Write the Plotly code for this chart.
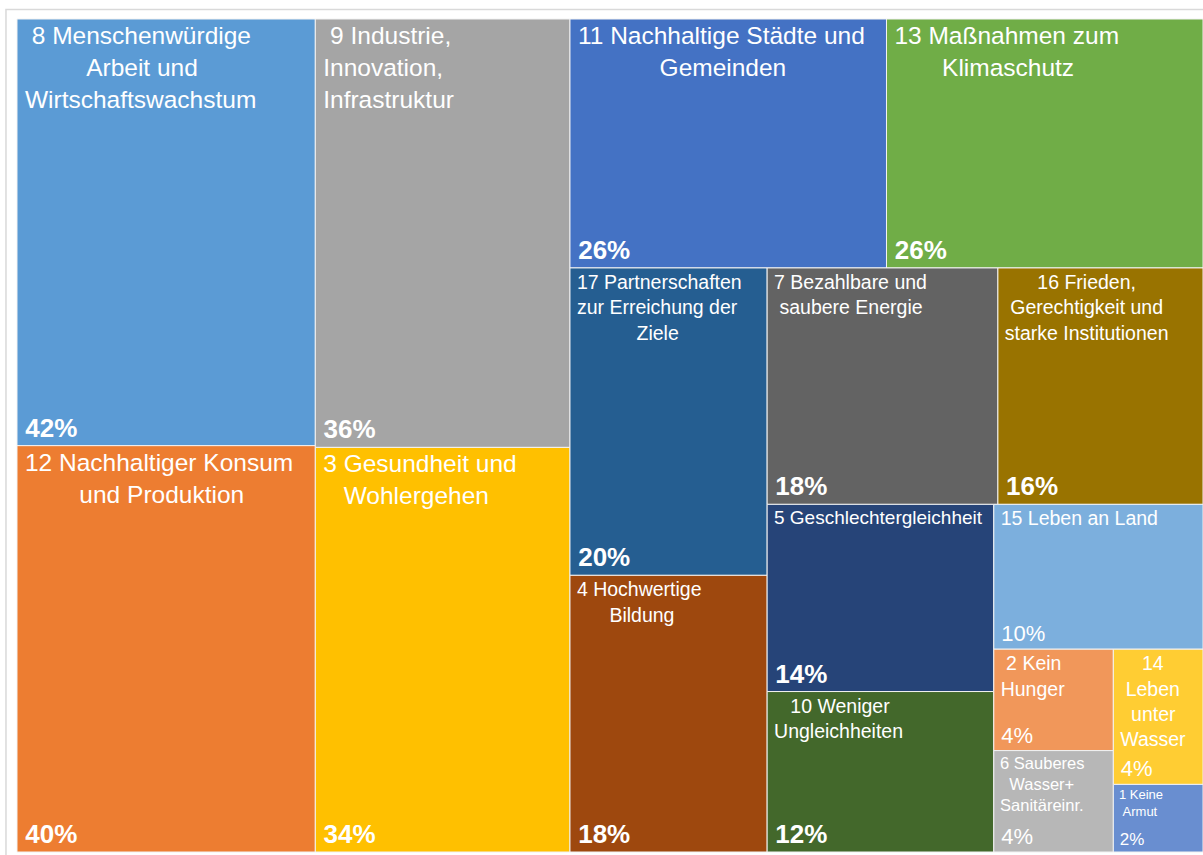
import plotly.graph_objects as go

NB = "\u00a0"
TS = "\u2009"  # thin space, small inset from the tile edge

# leaves: SDG number, label shown in the tile, share in percent
goal_ids = ["8", "12", "9", "3", "11", "13", "17", "4", "7", "16",
            "5", "10", "15", "2", "6", "14", "1"]
goal_labels = [
    f"{NB}8 Menschenwürdige<br>{NB * 9}Arbeit und<br>Wirtschaftswachstum",
    f"12 Nachhaltiger Konsum<br>{NB * 8}und Produktion",
    f"{NB}9 Industrie,<br>Innovation,<br>Infrastruktur",
    f"3 Gesundheit und<br>{NB * 3}Wohlergehen",
    f"11 Nachhaltige Städte und<br>{NB * 12}Gemeinden",
    f"13 Maßnahmen zum<br>{NB * 7}Klimaschutz",
    f"17 Partnerschaften<br>zur Erreichung der<br>{NB * 11}Ziele",
    f"4 Hochwertige<br>{NB * 6}Bildung",
    f"7 Bezahlbare und<br>{NB}saubere Energie",
    f"{NB * 6}16 Frieden,<br>{NB}Gerechtigkeit und<br>starke Institutionen",
    "5 Geschlechtergleichheit",
    f"{NB * 3}10 Weniger<br>Ungleichheiten",
    "15 Leben an Land",
    f"{NB}2 Kein<br>Hunger",
    f"6 Sauberes<br>{NB * 2}Wasser+<br>Sanitäreinr.",
    f"{NB * 4}14<br>{NB}Leben<br>{NB * 2}unter<br>Wasser",
    f"1 Keine<br>{NB}Armut",
]
shares = [42, 40, 36, 34, 26, 26, 20, 18, 18, 16, 14, 12, 10, 4, 4, 4, 2]
goal_group = ["A", "A", "B", "B", "T1", "T1", "C1", "C1", "T2", "T2",
              "C2", "C2", "R5", "C3", "C3", "C4", "C4"]
goal_colors = ["#5B9BD5", "#ED7D31", "#A5A5A5", "#FFC000", "#4472C4", "#70AD47",
               "#255E91", "#9E480E", "#636363", "#997300", "#264478", "#43682B",
               "#7CAFDD", "#F1975A", "#B7B7B7", "#FFCD33", "#698ED0"]
label_sizes = [24.5, 24.5, 24.5, 24.5, 24.5, 24.5, 19.5, 19.5, 19.5, 19.5,
               19, 19.5, 19.5, 19.5, 16.5, 19.5, 13]

# invisible nesting that reproduces the excel strip layout (slice-dice)
group_ids = ["R0", "A", "B", "R1", "T1", "R2", "C1", "R3", "T2", "R4",
             "C2", "R5", "R6", "C3", "C4"]
group_parents = ["", "R0", "R0", "R0", "R1", "R1", "R2", "R2", "R3", "R3",
                 "R4", "R4", "R5", "R6", "R6"]

n_leaf = len(goal_ids)
n_grp = len(group_ids)
ids = ["g" + g for g in goal_ids] + group_ids
parents = goal_group + group_parents
values = shares + [0] * n_grp
clear = "rgba(0,0,0,0)"


def inset(s):
    return "<br>".join(TS + line for line in s.split("<br>"))


label_text = [inset(s) for s in goal_labels]
pct_text = [TS + (f"<b>{v}%</b>" if v >= 12 else f"{v}%") for v in shares]
pct_sizes = [26 if v >= 12 else (22 if v >= 4 else 17) for v in shares]

common = dict(
    ids=ids,
    labels=ids,
    parents=parents,
    values=values,
    branchvalues="remainder",
    sort=False,
    texttemplate="%{text}",
    tiling=dict(packing="slice-dice", pad=0),
    pathbar=dict(visible=False),
    root=dict(color=clear),
)

fig = go.Figure()
fig.add_trace(go.Treemap(
    **common,
    text=label_text + [""] * n_grp,
    textposition="top left",
    textfont=dict(family="Liberation Sans", color="white",
                  size=label_sizes + [12] * n_grp),
    marker=dict(colors=goal_colors + [clear] * n_grp,
                line=dict(color="#f2f2f2", width=[1] * n_leaf + [0] * n_grp),
                pad=dict(t=0, l=0, r=0, b=0), depthfade=False),
    hoverinfo="skip",
))
fig.add_trace(go.Treemap(
    **common,
    text=pct_text + [""] * n_grp,
    textposition="bottom left",
    textfont=dict(family="Liberation Sans", color="white",
                  size=pct_sizes + [12] * n_grp),
    marker=dict(colors=[clear] * (n_leaf + n_grp),
                line=dict(width=0),
                pad=dict(t=0, l=0, r=0, b=0), depthfade=False),
    hoverinfo="skip",
))

fig.update_layout(
    width=1203,
    height=855,
    margin=dict(l=17, r=0, t=19, b=3),
    paper_bgcolor="white",
    shapes=[dict(type="rect", xref="paper", yref="paper",
                 x0=-0.0093, x1=1.01, y0=-0.02, y1=1.0114,
                 line=dict(color="#d9d9d9", width=1.5))],
)

fig.write_html(
    "out.html",
    config={"displayModeBar": False},
    post_script="document.body.style.margin='0';document.body.style.overflow='hidden';",
)
